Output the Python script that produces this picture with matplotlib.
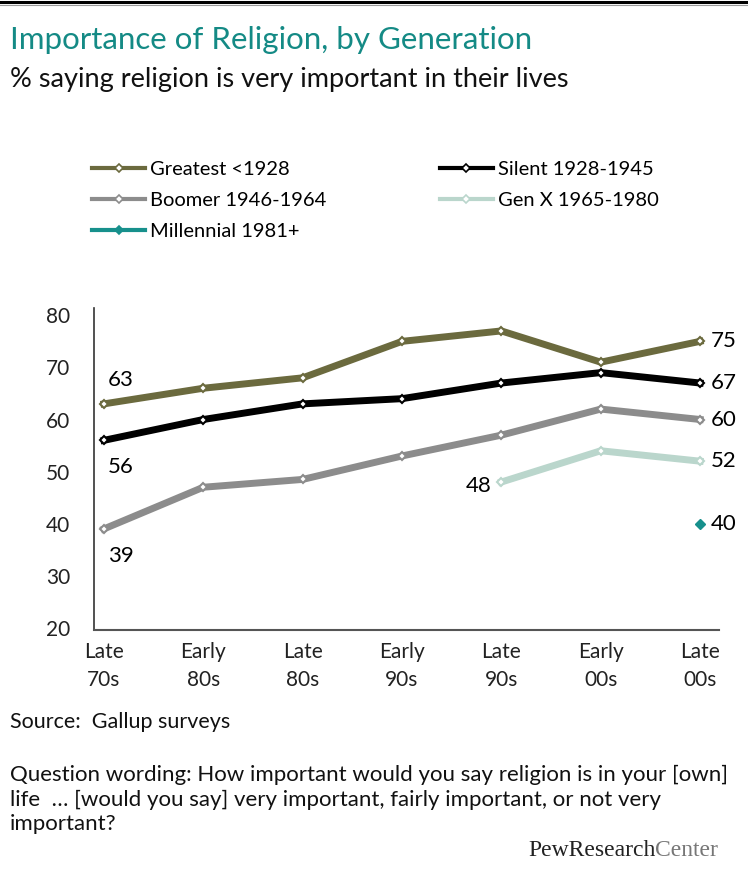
import matplotlib
matplotlib.use("Agg")
import matplotlib.pyplot as plt
from matplotlib.lines import Line2D

plt.rcParams['font.family'] = ['Lato', 'DejaVu Sans']

# donnees
periods = ['Late\n70s', 'Early\n80s', 'Late\n80s', 'Early\n90s', 'Late\n90s', 'Early\n00s', 'Late\n00s']
greatest = [63, 66, 68, 75, 77, 71, 75]
silent = [56, 60, 63, 64, 67, 69, 67]
boomer = [39, 47, 48.5, 53, 57, 62, 60]
genx_x = [4, 5, 6]
genx = [48, 54, 52]
millennial_x = [6]
millennial = [40]

c_greatest = '#6b6a3e'
c_silent = '#000000'
c_boomer = '#8c8c8c'
c_genx = '#bad6cc'
c_mill = '#17908c'
c_title = '#148a85'

W, H = 748, 888
fig = plt.figure(figsize=(W / 100, H / 100), dpi=100)

def fx(px):
    return px / W

def fy(py):
    return 1 - py / H

ax = fig.add_axes([fx(94), fy(630), fx(719) - fx(94), fy(308) - fy(630)])
x = list(range(len(periods)))

def serie(xs, ys, color, label):
    ax.plot(xs, ys, color=color, lw=5, marker='D', ms=4.5,
            mfc='white', mec=color, mew=1.5, label=label, solid_joinstyle='miter')

serie(x, greatest, c_greatest, 'Greatest <1928')
serie(x, silent, c_silent, 'Silent 1928-1945')
serie(x, boomer, c_boomer, 'Boomer 1946-1964')
serie(genx_x, genx, c_genx, 'Gen X 1965-1980')
ax.plot(millennial_x, millennial, color=c_mill, lw=0, marker='D', ms=5, label='Millennial 1981+')

ax.set_xlim(-0.1, 6.19)
ax.set_ylim(19.6, 81.4)
ax.set_yticks([20, 30, 40, 50, 60, 70, 80])
ax.set_xticks(x)
ax.set_xticklabels(periods, linespacing=1.45)
ax.tick_params(length=0, labelsize=15, colors='#222222')
ax.tick_params(axis='y', pad=17)
ax.tick_params(axis='x', pad=9)
for s in ['top', 'right']:
    ax.spines[s].set_visible(False)
ax.spines['left'].set_color('#333333')
ax.spines['bottom'].set_color('#555555')
ax.spines['left'].set_linewidth(1.2)
ax.spines['bottom'].set_linewidth(1.5)

# etiquettes des valeurs
fs = 16
ax.annotate(str(greatest[0]), (x[0], greatest[0]), xytext=(3, 10), textcoords='offset points', fontsize=fs, va='bottom')
ax.annotate(str(silent[0]), (x[0], silent[0]), xytext=(3, -12), textcoords='offset points', fontsize=fs, va='top')
ax.annotate(str(int(boomer[0])), (x[0], boomer[0]), xytext=(3, -12), textcoords='offset points', fontsize=fs, va='top')
ax.annotate(str(genx[0]), (genx_x[0], genx[0]), xytext=(-7, -3), textcoords='offset points', fontsize=fs, ha='right', va='center')
for ys in [greatest, silent, boomer]:
    ax.annotate(str(int(ys[-1])), (x[-1], ys[-1]), xytext=(8, 0), textcoords='offset points', fontsize=fs, va='center')
ax.annotate(str(genx[-1]), (genx_x[-1], genx[-1]), xytext=(8, 0), textcoords='offset points', fontsize=fs, va='center')
ax.annotate(str(millennial[-1]), (millennial_x[-1], millennial[-1]), xytext=(8, 0), textcoords='offset points', fontsize=fs, va='center')

# legende (ordre par colonnes pour avoir le bon ordre par lignes)
h, l = ax.get_legend_handles_labels()
order = [0, 2, 4, 1, 3]
handles = []
for i in order:
    col = h[i].get_color() if i != 4 else c_mill
    handles.append(Line2D([], [], color=col, lw=3, marker='D',
                          ms=4 if i != 4 else 4.5,
                          mfc='white' if i != 4 else c_mill, mec=col, mew=1.2))
leg = fig.legend(handles, [l[i] for i in order], ncol=2, loc='upper left',
                 bbox_to_anchor=(fx(92), fy(161)), frameon=False, fontsize=14.5,
                 handlelength=2.65, handletextpad=0.25, labelspacing=0.68,
                 columnspacing=5.6, borderpad=0, borderaxespad=0)

# titres et notes
fig.text(fx(10), fy(40), 'Importance of Religion, by Generation', color=c_title,
         fontsize=22.5, va='center')
fig.text(fx(10), fy(80), '% saying religion is very important in their lives', color='#111111',
         fontsize=19.5, va='center')
fig.text(fx(10), fy(722), 'Source:  Gallup surveys', fontsize=15.5, va='center', color='#111111')
notes = ['Question wording: How important would you say religion is in your [own]',
         'life  \u2026 [would you say] very important, fairly important, or not very',
         'important?']
for txt, yy in zip(notes, [775, 800, 824]):
    fig.text(fx(10), fy(yy), txt, fontsize=16, va='center', color='#111111')

t1 = fig.text(fx(528), fy(850), 'PewResearch', fontsize=17, family='Liberation Serif',
              color='#222222', va='center')
fig.canvas.draw()
bb = t1.get_window_extent()
fig.text(bb.x1 / W, fy(850), 'Center', fontsize=17, family='Liberation Serif',
         color='#777777', va='center')

# bordure du haut
fig.add_artist(Line2D([0, 1], [fy(2.5), fy(2.5)], color='black', lw=2.2))
fig.add_artist(Line2D([0, 1], [fy(5), fy(5)], color='#999999', lw=0.8))

fig.savefig('out.png', dpi=100)
